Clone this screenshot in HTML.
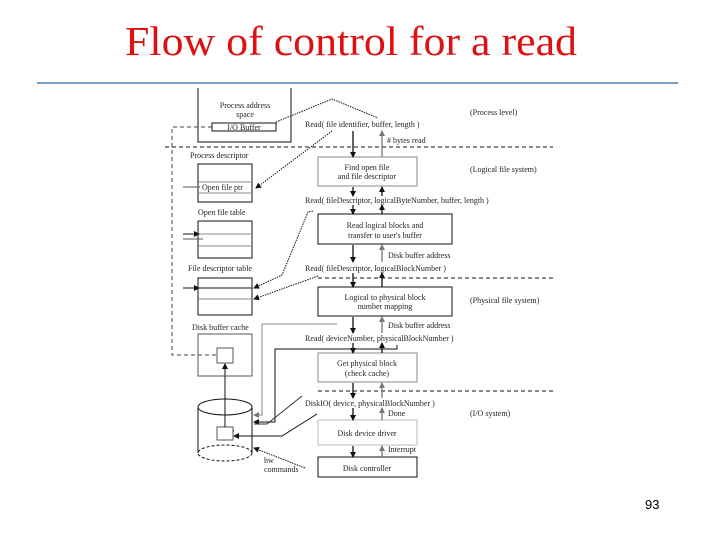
<!DOCTYPE html>
<html><head><meta charset="utf-8"><style>
html,body{margin:0;padding:0;background:#fff;}
svg{display:block;}
text{font-family:"Liberation Serif",serif;}
.s{font-size:8px;fill:#222;}
</style></head><body>
<svg width="720" height="540" viewBox="0 0 720 540" xmlns="http://www.w3.org/2000/svg">
<defs>
<marker id="a" markerWidth="6" markerHeight="6" refX="5" refY="3" orient="auto" markerUnits="userSpaceOnUse"><path d="M0,0 L6,3 L0,6z" fill="#111"/></marker>
<marker id="g" markerWidth="6" markerHeight="6" refX="5" refY="3" orient="auto" markerUnits="userSpaceOnUse"><path d="M0,0 L6,3 L0,6z" fill="#777"/></marker>
</defs>
<text x="125" y="55" font-size="41" fill="#dd1111" textLength="452" lengthAdjust="spacingAndGlyphs">Flow of control for a read</text>
<line x1="37" y1="83" x2="678" y2="83" stroke="#7a9cc0" stroke-width="2"/>
<text x="645" y="509" font-size="13" font-family="Liberation Sans" style="font-family:'Liberation Sans',sans-serif">93</text>

<g fill="none" stroke="#111" stroke-width="1">
<!-- process address space -->
<polyline points="198,88 198,142 291,142 291,88"/>
<rect x="212" y="123" width="64" height="8"/>
<polyline points="276,122 332,99 378,118" stroke-dasharray="1.5,1"/>
<!-- dashed horizontal lines -->
<line x1="165" y1="147" x2="553" y2="147" stroke-dasharray="4,3"/>
<line x1="318" y1="278" x2="553" y2="278" stroke-dasharray="4,3"/>
<line x1="318" y1="391" x2="553" y2="391" stroke-dasharray="4,3"/>
<!-- left dashed vertical -->
<polyline points="212,127 172,127 172,355 218,355" stroke-dasharray="4,3" stroke="#444"/>
<!-- process descriptor -->
<rect x="198" y="164" width="54" height="38"/>
<line x1="198" y1="182" x2="252" y2="182" stroke="#888"/>
<line x1="198" y1="193" x2="252" y2="193" stroke="#888"/>
<line x1="183" y1="187" x2="200" y2="187" stroke="#555"/>
<line x1="332" y1="131" x2="256" y2="188" stroke-dasharray="1.5,1" marker-end="url(#a)"/>
<!-- open file table -->
<rect x="198" y="221" width="54" height="37"/>
<line x1="198" y1="234" x2="252" y2="234" stroke="#888"/>
<line x1="198" y1="246" x2="252" y2="246" stroke="#888"/>
<line x1="183" y1="234" x2="199" y2="234" marker-end="url(#a)"/>
<line x1="183" y1="239" x2="203" y2="239" stroke="#555"/>
<!-- file descriptor table -->
<rect x="198" y="278" width="54" height="37"/>
<line x1="198" y1="288" x2="252" y2="288"/>
<line x1="198" y1="299" x2="252" y2="299" stroke="#888"/>
<line x1="183" y1="288" x2="199" y2="288" marker-end="url(#a)"/>
<polyline points="313,211 308,212 282,275 254,288" stroke-dasharray="1.5,1" marker-end="url(#a)"/>
<polyline points="318,276 254,299" stroke-dasharray="1.5,1" marker-end="url(#a)"/>
<!-- disk buffer cache -->
<rect x="198" y="334" width="54" height="42" stroke="#555"/>
<rect x="217" y="348" width="16" height="15" stroke="#555"/>
<!-- cylinder -->
<path d="M198,407 L198,453 M252,407 L252,453" />
<ellipse cx="225" cy="407" rx="27" ry="8"/>
<ellipse cx="225" cy="453" rx="27" ry="8" stroke-dasharray="3,2"/>
<rect x="217" y="427" width="16" height="13" stroke="#555"/>
<line x1="225" y1="427" x2="225" y2="364" marker-end="url(#a)"/>
<!-- connectors to cylinder -->
<polyline points="337,324 262,324 262,415 254,415" stroke="#888" marker-end="url(#g)"/>
<polyline points="397,345 397,349 275,349 275,422 254,422" marker-end="url(#a)"/>
<polyline points="302,396 267,424 254,424" stroke="#333"/>
<polyline points="317,414 282,436 234,436" marker-end="url(#a)"/>
<polyline points="302,396 290,408" stroke="none"/>
<line x1="234" y1="431" x2="233" y2="431"/>
<polyline points="305,468 254,448" stroke-dasharray="1.5,1" marker-end="url(#a)"/>
<!-- right boxes -->
<rect x="318" y="157" width="99" height="29" stroke="#888"/>
<rect x="318" y="214" width="134" height="30"/>
<rect x="318" y="287" width="134" height="29"/>
<rect x="318" y="353" width="99" height="29" stroke="#888"/>
<rect x="318" y="420" width="99" height="25" stroke="#bbb"/>
<rect x="318" y="457" width="99" height="20"/>
</g>

<!-- arrows column -->
<g stroke-width="1.3">
<line x1="353" y1="131" x2="353" y2="157" stroke="#111" marker-end="url(#a)"/>
<line x1="382" y1="157" x2="382" y2="131" stroke="#777" marker-end="url(#g)"/>
<line x1="353" y1="187" x2="353" y2="196" stroke="#111" marker-end="url(#a)"/>
<line x1="382" y1="196" x2="382" y2="187" stroke="#111" marker-end="url(#a)"/>
<line x1="353" y1="205" x2="353" y2="214" stroke="#111" marker-end="url(#a)"/>
<line x1="382" y1="214" x2="382" y2="205" stroke="#111" marker-end="url(#a)"/>
<line x1="353" y1="245" x2="353" y2="262" stroke="#111" marker-end="url(#a)"/>
<line x1="382" y1="262" x2="382" y2="245" stroke="#777" marker-end="url(#g)"/>
<line x1="353" y1="273" x2="353" y2="287" stroke="#111" marker-end="url(#a)"/>
<line x1="382" y1="287" x2="382" y2="273" stroke="#111" marker-end="url(#a)"/>
<line x1="353" y1="317" x2="353" y2="333" stroke="#111" marker-end="url(#a)"/>
<line x1="382" y1="333" x2="382" y2="317" stroke="#777" marker-end="url(#g)"/>
<line x1="353" y1="343" x2="353" y2="353" stroke="#111" marker-end="url(#a)"/>
<line x1="382" y1="353" x2="382" y2="343" stroke="#111" marker-end="url(#a)"/>
<line x1="353" y1="383" x2="353" y2="398" stroke="#111" marker-end="url(#a)"/>
<line x1="382" y1="398" x2="382" y2="383" stroke="#777" marker-end="url(#g)"/>
<line x1="353" y1="408" x2="353" y2="420" stroke="#111" marker-end="url(#a)"/>
<line x1="382" y1="420" x2="382" y2="408" stroke="#777" marker-end="url(#g)"/>
<line x1="353" y1="446" x2="353" y2="457" stroke="#111" marker-end="url(#a)"/>
<line x1="382" y1="457" x2="382" y2="446" stroke="#777" marker-end="url(#g)"/>
</g>

<g class="s">
<text x="245" y="108" text-anchor="middle" class="s">Process address</text>
<text x="245" y="117" text-anchor="middle" class="s">space</text>
<text x="244" y="130" text-anchor="middle" class="s">I/O Buffer</text>
<text x="470" y="115" class="s">(Process level)</text>
<text x="305" y="127" class="s">Read( file identifier, buffer, length )</text>
<text x="387" y="143" class="s"># bytes read</text>
<text x="190" y="158" class="s">Process descriptor</text>
<text x="202" y="190" class="s">Open file ptr</text>
<text x="367" y="170" text-anchor="middle" class="s">Find open file</text>
<text x="367" y="179" text-anchor="middle" class="s">and file descriptor</text>
<text x="470" y="172" class="s">(Logical file system)</text>
<text x="305" y="203" class="s">Read( fileDescriptor, logicalByteNumber, buffer, length )</text>
<text x="198" y="215" class="s">Open file table</text>
<text x="385" y="228" text-anchor="middle" class="s">Read logical blocks and</text>
<text x="385" y="238" text-anchor="middle" class="s">transfer to user's buffer</text>
<text x="388" y="258" class="s">Disk buffer address</text>
<text x="188" y="271" class="s">File descriptor table</text>
<text x="305" y="271" class="s">Read( fileDescriptor, logicalBlockNumber )</text>
<text x="385" y="300" text-anchor="middle" class="s">Logical to physical block</text>
<text x="385" y="309" text-anchor="middle" class="s">number mapping</text>
<text x="470" y="303" class="s">(Physical file system)</text>
<text x="192" y="330" class="s">Disk buffer cache</text>
<text x="388" y="328" class="s">Disk buffer address</text>
<text x="305" y="341" class="s">Read( deviceNumber, physicalBlockNumber )</text>
<text x="367" y="366" text-anchor="middle" class="s">Get physical block</text>
<text x="367" y="376" text-anchor="middle" class="s">(check cache)</text>
<text x="305" y="406" class="s">DiskIO( device, physicalBlockNumber )</text>
<text x="388" y="416" class="s">Done</text>
<text x="470" y="416" class="s">(I/O system)</text>
<text x="367" y="436" text-anchor="middle" class="s">Disk device driver</text>
<text x="388" y="452" class="s">Interrupt</text>
<text x="264" y="463" class="s">hw</text>
<text x="264" y="472" class="s">commands</text>
<text x="367" y="471" text-anchor="middle" class="s">Disk controller</text>
</g>
</svg>
</body></html>
